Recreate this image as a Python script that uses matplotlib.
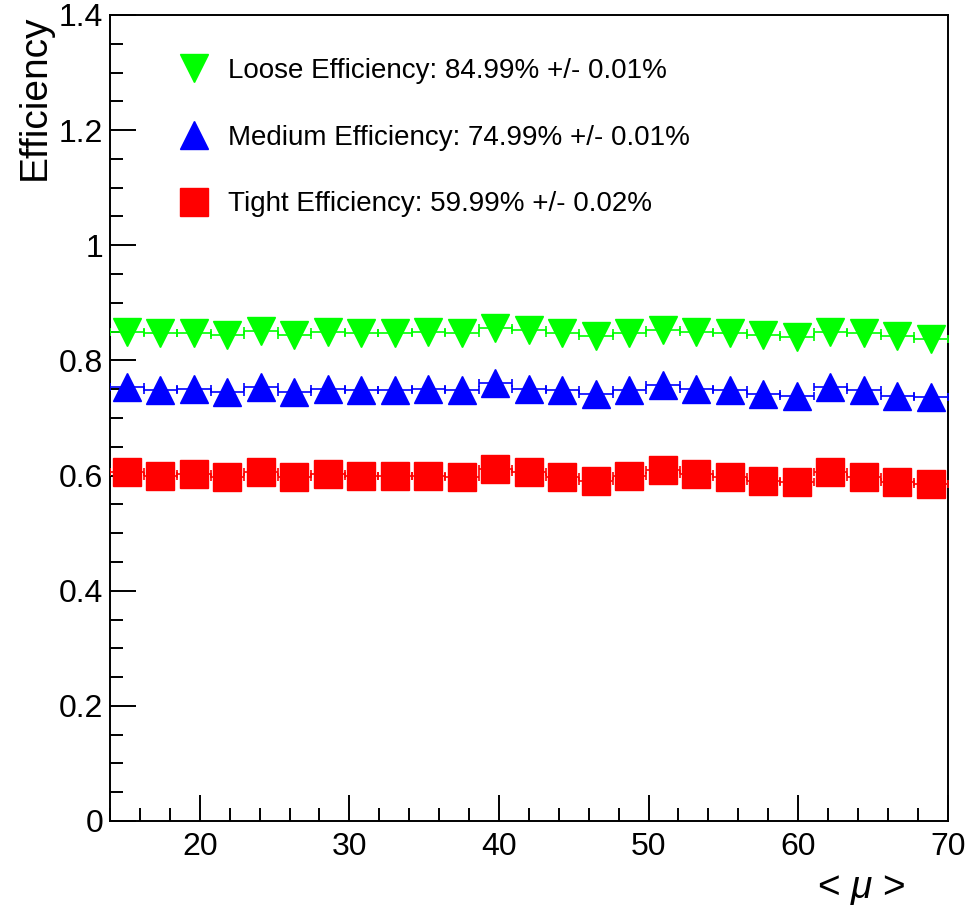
import numpy as np
import matplotlib
matplotlib.use("Agg")
import matplotlib.pyplot as plt
from matplotlib.lines import Line2D
from matplotlib.ticker import MultipleLocator, FuncFormatter

plt.rcParams["font.family"] = ["Liberation Sans", "DejaVu Sans"]
plt.rcParams["mathtext.fontset"] = "custom"
plt.rcParams["mathtext.rm"] = "Liberation Sans"
plt.rcParams["mathtext.it"] = "Liberation Sans:italic"

# bin centres in <mu>, bin half width
mu = [15.12, 17.36, 19.60, 21.84, 24.08, 26.32, 28.56, 30.80, 33.04,
      35.28, 37.52, 39.76, 42.00, 44.24, 46.48, 48.72, 50.96, 53.20,
      55.44, 57.68, 59.92, 62.16, 64.40, 66.64, 68.88]
mu_halfwidth = 1.12

loose = [0.850, 0.847, 0.848, 0.844, 0.851, 0.845, 0.850, 0.848, 0.848,
         0.850, 0.848, 0.856, 0.852, 0.847, 0.842, 0.847, 0.853, 0.850,
         0.847, 0.844, 0.841, 0.850, 0.847, 0.842, 0.838]
medium = [0.754, 0.748, 0.751, 0.745, 0.754, 0.745, 0.750, 0.748, 0.748,
          0.750, 0.748, 0.760, 0.750, 0.748, 0.742, 0.748, 0.757, 0.750,
          0.748, 0.742, 0.739, 0.754, 0.748, 0.739, 0.736]
tight = [0.606, 0.600, 0.603, 0.598, 0.606, 0.598, 0.603, 0.600, 0.600,
         0.600, 0.598, 0.612, 0.606, 0.597, 0.591, 0.600, 0.610, 0.603,
         0.597, 0.591, 0.588, 0.606, 0.597, 0.588, 0.585]

names = ["Loose", "Medium", "Tight"]
overall = [84.99, 74.99, 59.99]
overall_err = [0.01, 0.01, 0.02]

series = [loose, medium, tight]
markers = ["v", "^", "s"]
colors = ["#00ff00", "#0000ff", "#ff0000"]

fig = plt.figure(figsize=(9.73, 9.06), dpi=100)
ax = fig.add_axes([110 / 973, 85 / 906, 837.7 / 973, 806 / 906])

for vals, m, c in zip(series, markers, colors):
    ax.errorbar(mu, vals, xerr=mu_halfwidth, fmt=m, color=c, ms=19.5,
                mec=c, elinewidth=1.2, capsize=3, capthick=1.2, zorder=3)

ax.set_xlim(14, 70)
ax.set_ylim(0, 1.4)
ax.xaxis.set_major_locator(MultipleLocator(10))
ax.xaxis.set_minor_locator(MultipleLocator(2))
ax.yaxis.set_major_locator(MultipleLocator(0.2))
ax.yaxis.set_minor_locator(MultipleLocator(0.05))
ax.yaxis.set_major_formatter(FuncFormatter(lambda v, p: "%g" % round(v, 2)))

ax.tick_params(which="both", direction="in", top=False, right=False,
               width=1.4, labelsize=23)
ax.tick_params(which="major", length=18.5)
ax.tick_params(which="minor", length=9.3)
ax.tick_params(axis="y", pad=5)
ax.tick_params(axis="x", pad=8)
for s in ax.spines.values():
    s.set_linewidth(1.4)

ax.set_ylabel("Efficiency", fontsize=28, loc="top")
ax.yaxis.set_label_coords(-0.068, 1.0)
ax.set_xlabel(r"< $\mu$ >", fontsize=28, loc="right")
ax.xaxis.set_label_coords(0.95, -0.062)

handles = [Line2D([], [], marker=m, color=c, ls="none", ms=19.5)
           for m, c in zip(markers, colors)]
labels = ["%s Efficiency: %.2f%% +/- %.2f%%" % (n, e, r)
          for n, e, r in zip(names, overall, overall_err)]
ax.legend(handles, labels, loc="upper left", bbox_to_anchor=(0.0836, 0.947),
          frameon=False, fontsize=20, borderpad=0, borderaxespad=0,
          handlelength=1.0, handletextpad=0.72, labelspacing=1.47)

fig.savefig("out.png", dpi=100)
